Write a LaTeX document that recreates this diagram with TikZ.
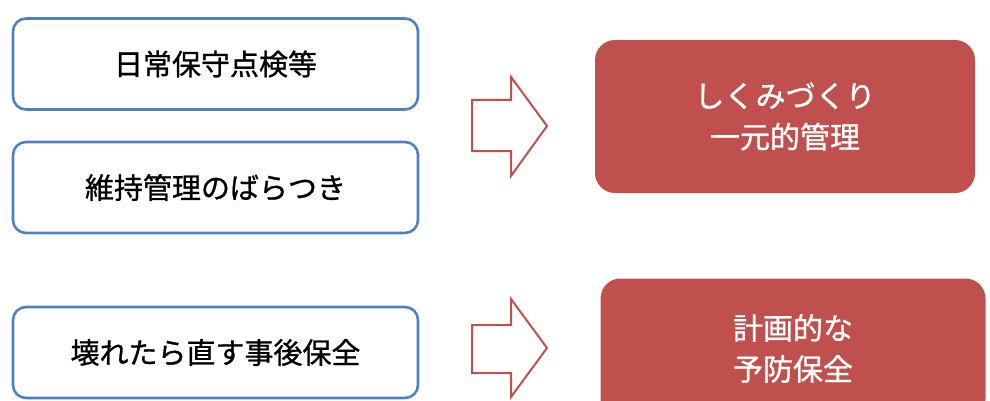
\documentclass[tikz,border=0pt]{standalone}
\usepackage{fontspec}
\newfontfamily\jpfont[FakeBold=0.9]{Noto Sans CJK JP}
\usepackage{tikz}
\definecolor{boxblue}{RGB}{79,129,189}
\definecolor{boxred}{RGB}{192,80,77}

\begin{document}
\begin{tikzpicture}[x=1pt,y=-1pt,
		lbox/.style={draw=boxblue,line width=2.6pt,rounded corners=13pt,fill=white,minimum width=405pt,minimum height=91pt,font=\jpfont\fontsize{29}{32}\selectfont},
		rbox/.style={fill=boxred,rounded corners=20pt,text=white,align=center,font=\jpfont\fontsize{30}{41}\selectfont},
		barrow/.style={draw=boxred,line width=2pt,fill=white,line join=miter}] % 坐标按像素
				\clip (0,0) rectangle (990,401);
				\node[lbox](L1) at (215.5,64) {日常保守点検等};
				\node[lbox](L2) at (215.5,187.5) {維持管理のばらつき};
				\node[lbox](L3) at (215.5,352.5) {壊れたら直す事後保全};
				\node[rbox,minimum width=380pt,minimum height=153pt](R1) at (785,116.5) {しくみづくり\\一元的管理};
				\node[rbox,minimum width=385pt,minimum height=140pt](R2) at (793,348.5) {計画的な\\予防保全};
				\draw[barrow] (472,100) -- (511,100) -- (511,77) -- (547,126) -- (511,176) -- (511,151) -- (472,151) -- cycle;
				\draw[barrow] (472,325) -- (511,325) -- (511,299) -- (547,348) -- (511,397) -- (511,373) -- (472,373) -- cycle;
			\end{tikzpicture}
\end{document}
